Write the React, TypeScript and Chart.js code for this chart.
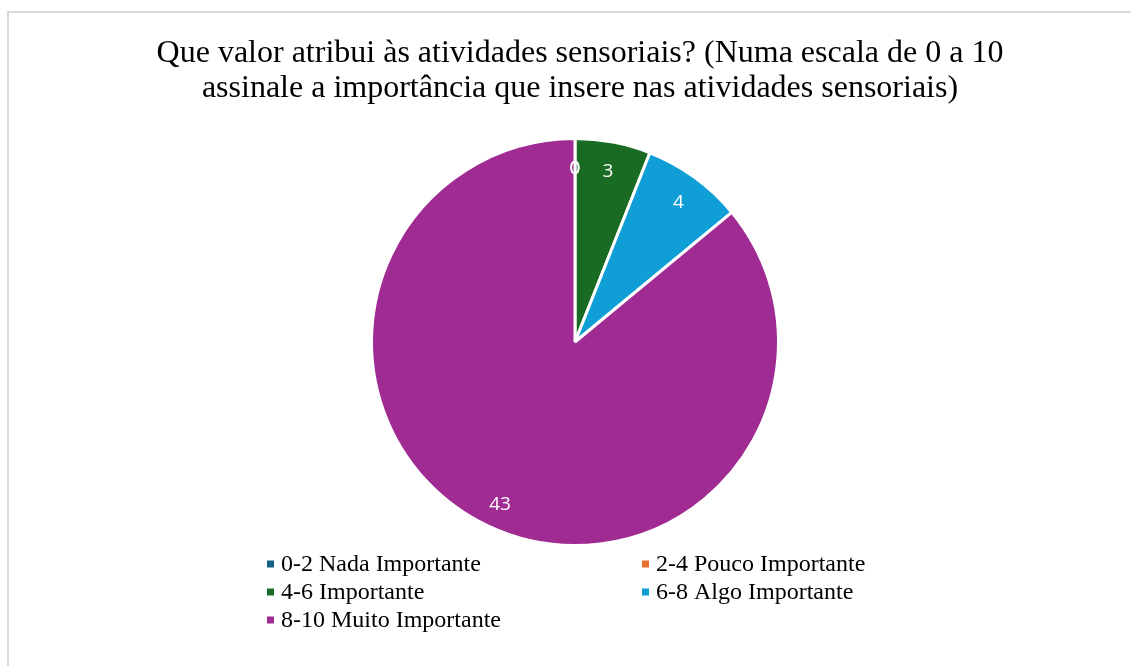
import React, { useEffect, useRef } from "react";
import { Chart, registerables } from "chart.js";

Chart.register(...registerables);

const titleLines = [
  "Que valor atribui às atividades sensoriais? (Numa escala de 0 a 10",
  "assinale a importância que insere nas atividades sensoriais)",
];
const categories = [
  "0-2 Nada Importante",
  "2-4 Pouco Importante",
  "4-6 Importante",
  "6-8 Algo Importante",
  "8-10 Muito Importante",
];
const values = [0, 0, 3, 4, 43];
const colors = ["#156082", "#E97132", "#196B24", "#0F9ED5", "#A02B93"];

const SERIF = '"Liberation Serif", "Times New Roman", serif';

const titlePlugin = {
  id: "customTitle",
  afterDraw(chart: any) {
    const ctx = chart.ctx;
    ctx.save();
    ctx.fillStyle = "#000";
    ctx.font = `32px ${SERIF}`;
    ctx.textAlign = "center";
    ctx.textBaseline = "middle";
    ctx.fillText(titleLines[0], 580, 54);
    ctx.fillText(titleLines[1], 580, 89);
    ctx.restore();
  },
};

const labelPlugin = {
  id: "sliceLabels",
  afterDatasetsDraw(chart: any) {
    const ctx = chart.ctx;
    const meta = chart.getDatasetMeta(0);
    ctx.save();
    ctx.fillStyle = "#fff";
    ctx.font = `19px "Open Sans", "Noto Sans", sans-serif`;
    ctx.textAlign = "center";
    ctx.textBaseline = "middle";
    meta.data.forEach((arc: any, i: number) => {
      const { x, y, startAngle, endAngle, outerRadius } = arc.getProps(
        ["x", "y", "startAngle", "endAngle", "outerRadius"],
        true
      );
      const mid = (startAngle + endAngle) / 2;
      const d = outerRadius * 0.865;
      ctx.fillText(String(values[i]), x + Math.cos(mid) * d, y + Math.sin(mid) * d + 3);
    });
    ctx.restore();
  },
};

const legendPlugin = {
  id: "customLegend",
  afterDraw(chart: any) {
    const ctx = chart.ctx;
    ctx.save();
    ctx.font = `24px ${SERIF}`;
    ctx.textBaseline = "middle";
    ctx.textAlign = "left";
    const cols = [267, 642];
    const rows = [564, 592, 620];
    categories.forEach((c, i) => {
      const cx = cols[i % 2];
      const cy = rows[Math.floor(i / 2)];
      ctx.fillStyle = colors[i];
      ctx.fillRect(cx, cy - 3.5, 7, 7);
      ctx.fillStyle = "#000";
      ctx.fillText(c, cx + 14, cy + 1);
    });
    ctx.restore();
  },
};

export default function App() {
  const ref = useRef<HTMLCanvasElement>(null);
  useEffect(() => {
    if (!ref.current) return;
    const chart = new Chart(ref.current, {
      type: "pie",
      data: {
        labels: categories,
        datasets: [
          {
            data: values,
            backgroundColor: colors,
            borderColor: "#fff",
            borderWidth: 3,
          },
        ],
      },
      options: {
        animation: false,
        responsive: false,
        maintainAspectRatio: false,
        layout: { padding: { top: 137, bottom: 119, left: 19, right: 0 } },
        plugins: {
          legend: { display: false },
          title: { display: false },
          tooltip: { enabled: false },
        },
      },
      plugins: [titlePlugin, labelPlugin, legendPlugin],
    });
    return () => chart.destroy();
  }, []);
  return (
    <div style={{ position: "fixed", left: 0, top: 0, width: 1131, height: 666, background: "#fff" }}>
      <div
        style={{
          position: "absolute",
          left: 7,
          top: 11,
          width: 1140,
          height: 700,
          borderLeft: "2px solid #d9d9d9",
          borderTop: "2px solid #d9d9d9",
        }}
      />
      <canvas ref={ref} width={1131} height={666} style={{ position: "absolute", left: 0, top: 0 }} />
    </div>
  );
}
